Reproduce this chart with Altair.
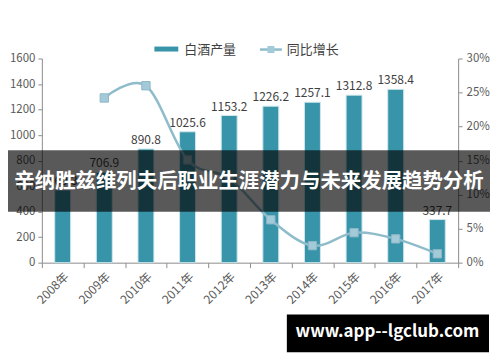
import altair as alt
import pandas as pd

years = ["2008年", "2009年", "2010年", "2011年", "2012年", "2013年", "2014年", "2015年", "2016年", "2017年"]
production = [569.3, 706.9, 890.8, 1025.6, 1153.2, 1226.2, 1257.1, 1312.8, 1358.4, 337.7]
growth_years = years[1:]
growth = [24.2, 26.0, 15.1, 12.4, 6.3, 2.5, 4.4, 3.5, 1.3]
legend_labels = ["白酒产量", "同比增长"]
banner_text = "辛纳胜兹维列夫后职业生涯潜力与未来发展趋势分析"
watermark_text = "www.app--lgclub.com"

FONT = "Noto Sans CJK SC"
BAR = "#3894A9"
LINE = "#8FBCCB"
AX = "#8C8C8C"
LAB = "#595959"

df = pd.DataFrame({"year": years, "prod": production,
                   "label": [f"{v:.1f}" for v in production]})
gdf = pd.DataFrame({"year": growth_years, "growth": growth})
one = pd.DataFrame({"k": [0]})

xenc = alt.X("year:N", sort=years, title=None,
             scale=alt.Scale(paddingInner=0, paddingOuter=0),
             axis=alt.Axis(labelAngle=-45, tickBand="extent", domainColor=AX,
                           tickColor=AX, tickSize=5, labelColor=LAB, labelFont=FONT,
                           labelFontSize=12, labelPadding=3, labelOverlap=False))
yleft = alt.Y("prod:Q", title=None,
              scale=alt.Scale(domain=[0, 1600]),
              axis=alt.Axis(values=list(range(0, 1601, 200)), format="d", grid=False,
                            domainColor=AX, tickColor=AX, tickSize=4, labelColor=LAB,
                            labelFont=FONT, labelFontSize=11.5, orient="left", labelPadding=3,
                            labelOverlap=False))
yright = alt.Y("growth:Q", title=None, scale=alt.Scale(domain=[0, 30]),
               axis=alt.Axis(values=list(range(0, 31, 5)), labelExpr="datum.value + '%'",
                             orient="right", grid=False, domainColor=AX, tickColor=AX,
                             tickSize=4, labelColor=LAB, labelFont=FONT, labelFontSize=11.5,
                             labelPadding=4, labelOverlap=False))

bars = alt.Chart(df).mark_bar(size=16, color=BAR, stroke="#CFE7EE", strokeWidth=1).encode(
    x=xenc, y=yleft)
bar_text = alt.Chart(df).mark_text(dy=-9, fontSize=12, color="#404040", font=FONT).encode(
    x=xenc, y=yleft, text="label:N")

line = alt.Chart(gdf).mark_line(color=LINE, strokeWidth=2.5, interpolate="cardinal").encode(
    x=xenc, y=yright)
pts = alt.Chart(gdf).mark_point(shape="square", size=70, filled=True, color="#A3CAD8",
                                stroke="#8DB6C6", strokeWidth=1, opacity=1).encode(
    x=xenc, y=yright)

# legend
leg_bar = alt.Chart(one).mark_rect(color=BAR).encode(
    x=alt.value(113), x2=alt.value(137), y=alt.value(-12), y2=alt.value(-7))
leg_t1 = alt.Chart(one).mark_text(align="left", baseline="middle", fontSize=13,
                                  color="#404040", font=FONT).encode(
    x=alt.value(143), y=alt.value(-9), text=alt.value(legend_labels[0]))
leg_line = alt.Chart(one).mark_rule(color=LINE, strokeWidth=2.5).encode(
    x=alt.value(219), x2=alt.value(241), y=alt.value(-9))
leg_pt = alt.Chart(one).mark_point(shape="square", size=50, filled=True, color="#A3CAD8",
                                   opacity=1).encode(x=alt.value(230), y=alt.value(-9))
leg_t2 = alt.Chart(one).mark_text(align="left", baseline="middle", fontSize=13,
                                  color="#404040", font=FONT).encode(
    x=alt.value(246), y=alt.value(-9), text=alt.value(legend_labels[1]))

# overlays
banner = alt.Chart(one).mark_rect(color="black", opacity=0.65).encode(
    x=alt.value(-34), x2=alt.value(450), y=alt.value(92), y2=alt.value(154))
banner_t = alt.Chart(one).mark_text(align="center", baseline="middle", fontSize=20.5,
                                    fontWeight="bold", color="white", font=FONT).encode(
    x=alt.value(208), y=alt.value(124), text=alt.value(banner_text))
wm = alt.Chart(one).mark_rect(color="black").encode(
    x=alt.value(246), x2=alt.value(449), y=alt.value(257), y2=alt.value(295))
wm_t = alt.Chart(one).mark_text(align="center", baseline="middle", fontSize=17,
                                fontWeight="bold", color="white", font=FONT).encode(
    x=alt.value(347), y=alt.value(275), text=alt.value(watermark_text))

chart = alt.layer(
    alt.layer(bars, bar_text),
    alt.layer(line, pts),
    leg_bar, leg_t1, leg_line, leg_pt, leg_t2,
    banner, banner_t, wm, wm_t,
).resolve_scale(y="independent").properties(
    width=418, height=205,
    padding={"left": 34, "top": 50, "right": 34, "bottom": 90},
    autosize=alt.AutoSizeParams(type="none"),
    background="white",
).configure_view(stroke=None)

chart.save("out.html", embed_options={"renderer": "svg", "actions": False})
